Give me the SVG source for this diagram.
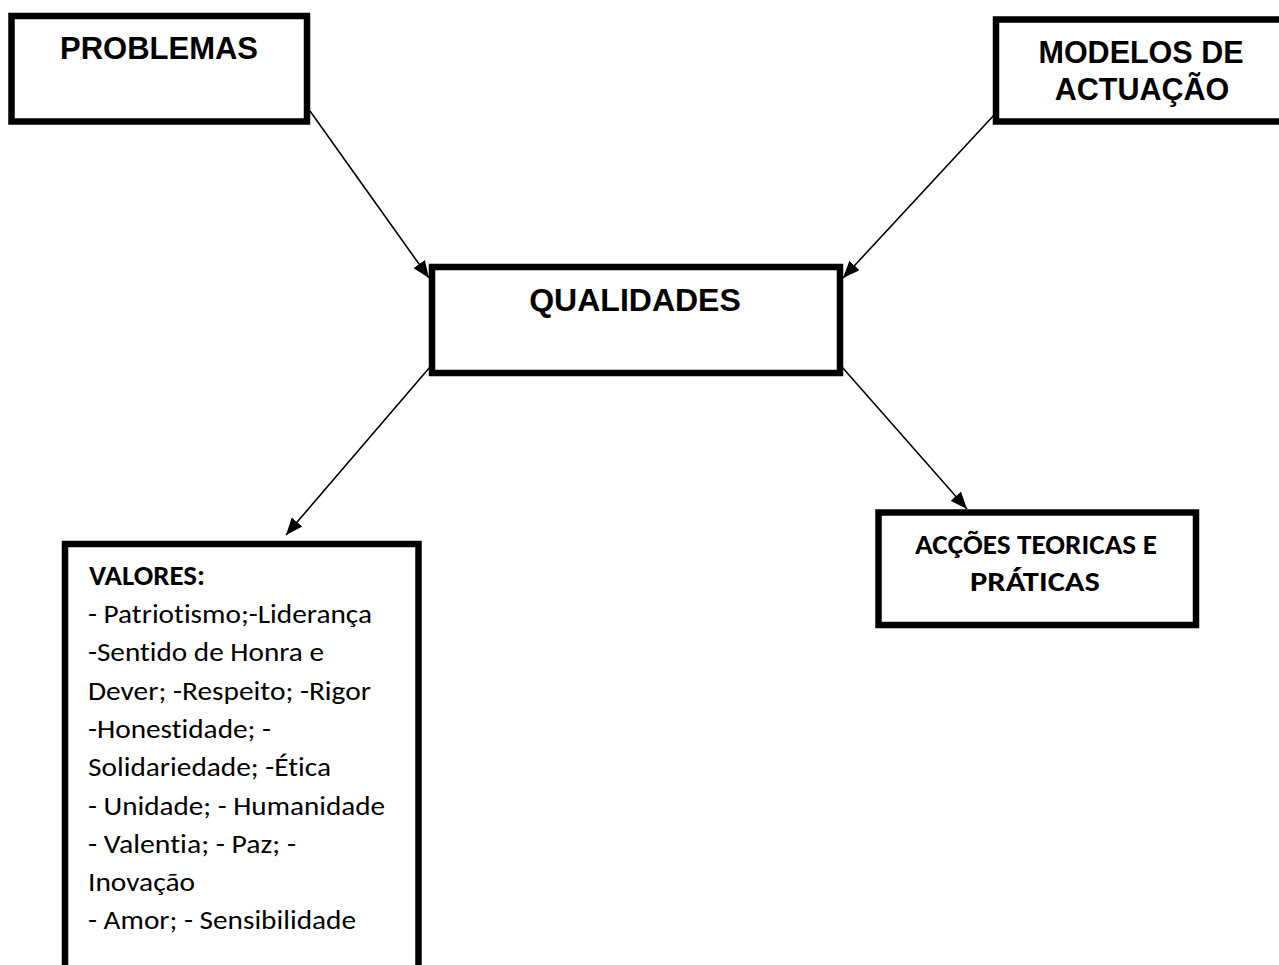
<svg xmlns="http://www.w3.org/2000/svg" width="1279" height="965" viewBox="0 0 1279 965">
<style>
.box{fill:#fff;stroke:#000;stroke-width:6.5}
.hd{font-family:"Liberation Sans",Arial,Helvetica,sans-serif;font-weight:bold;fill:#000;text-anchor:middle}
.cb{font-family:Carlito,Calibri,Lato,sans-serif;fill:#000;font-size:27.5px;font-variant-ligatures:none}
.b{font-weight:bold}
.conn{stroke:#000;stroke-width:1.6;fill:none;marker-end:url(#arr)}
</style>
<defs>
<marker id="arr" markerUnits="userSpaceOnUse" markerWidth="18" markerHeight="14" refX="17" refY="7" orient="auto">
<path d="M0,0 L17,7 L0,14 z" fill="#000"/>
</marker>
</defs>
<rect width="1279" height="965" fill="#fff"/>
<g id="connectors">
<line class="conn" x1="310" y1="111" x2="429" y2="278"/>
<line class="conn" x1="995" y1="114" x2="843" y2="278"/>
<line class="conn" x1="430" y1="367" x2="286" y2="535"/>
<line class="conn" x1="842" y1="367" x2="967" y2="509"/>
</g>
<g id="problemas">
<rect class="box" x="11.5" y="16" width="295.5" height="105.5"/>
<text class="hd" x="159" y="59" font-size="31">PROBLEMAS</text>
</g>
<g id="modelos">
<rect class="box" x="996" y="19.5" width="300" height="102"/>
<text class="hd" x="1141" y="63" font-size="30.5">MODELOS DE</text>
<text class="hd" x="1142" y="100" font-size="30.5">ACTUAÇÃO</text>
</g>
<g id="qualidades">
<rect class="box" x="432" y="267" width="408" height="106"/>
<text class="hd" x="635" y="311" font-size="32">QUALIDADES</text>
</g>
<g id="accoes">
<rect class="box" x="878.5" y="512.5" width="317.5" height="112.5"/>
<text class="cb b" x="1036" y="554" text-anchor="middle" textLength="242" lengthAdjust="spacingAndGlyphs">ACÇÕES TEORICAS E</text>
<text class="cb b" x="1035" y="591" text-anchor="middle" textLength="130" lengthAdjust="spacingAndGlyphs">PRÁTICAS</text>
</g>
<g id="valores">
<rect class="box" x="65" y="544" width="353.5" height="440"/>
<text class="cb b" x="89" y="585" textLength="116" lengthAdjust="spacingAndGlyphs">VALORES:</text>
<text class="cb" x="88" y="623" textLength="284" lengthAdjust="spacingAndGlyphs">- Patriotismo;-Liderança</text>
<text class="cb" x="88" y="661.3" textLength="236" lengthAdjust="spacingAndGlyphs">-Sentido de Honra e</text>
<text class="cb" x="88" y="699.6" textLength="283" lengthAdjust="spacingAndGlyphs">Dever; -Respeito; -Rigor</text>
<text class="cb" x="88" y="737.9" textLength="183" lengthAdjust="spacingAndGlyphs">-Honestidade; -</text>
<text class="cb" x="88" y="776.2" textLength="243" lengthAdjust="spacingAndGlyphs">Solidariedade; -Ética</text>
<text class="cb" x="88" y="814.5" textLength="297" lengthAdjust="spacingAndGlyphs">- Unidade; - Humanidade</text>
<text class="cb" x="88" y="852.8" textLength="208" lengthAdjust="spacingAndGlyphs">- Valentia; - Paz; -</text>
<text class="cb" x="88" y="891.1" textLength="107" lengthAdjust="spacingAndGlyphs">Inovação</text>
<text class="cb" x="88" y="929.4" textLength="268" lengthAdjust="spacingAndGlyphs">- Amor; - Sensibilidade</text>
</g>
</svg>
